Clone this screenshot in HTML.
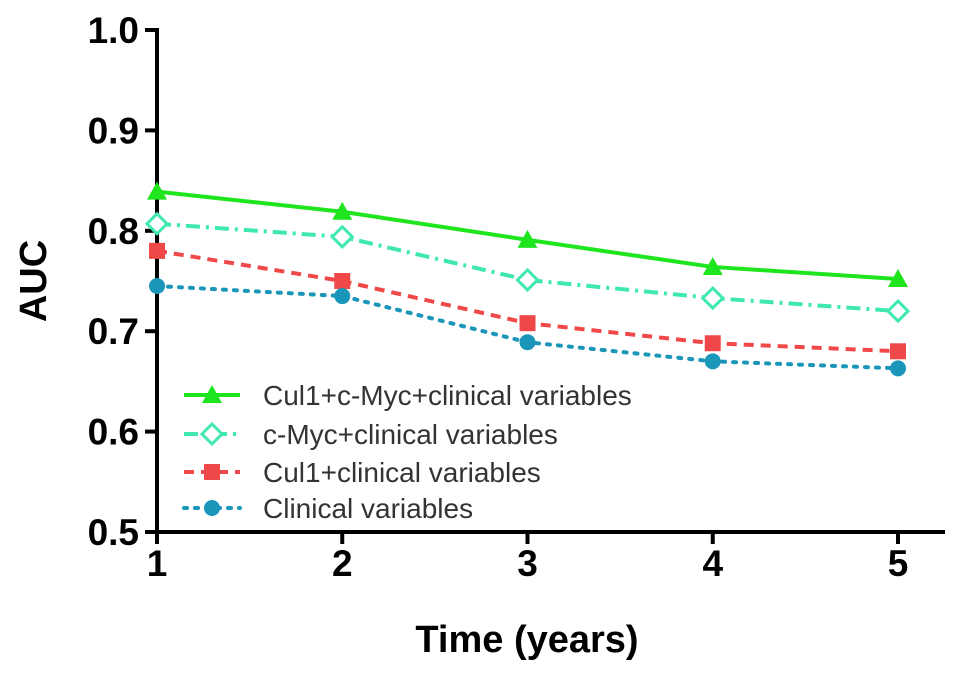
<!DOCTYPE html>
<html><head><meta charset="utf-8"><style>
body{margin:0;background:#fff}
svg text{font-family:"Liberation Sans",Arial,sans-serif}
</style></head><body>
<svg id="chart" width="969" height="677" viewBox="0 0 969 677" xmlns="http://www.w3.org/2000/svg">
<g id="axes"></g><g id="series"></g><g id="legend"></g>
</svg>
<script>
const years=[1,2,3,4,5];
const yTicks=[0.5,0.6,0.7,0.8,0.9,1.0];
const seriesNames=["Cul1+c-Myc+clinical variables","c-Myc+clinical variables","Cul1+clinical variables","Clinical variables"];
const cul1MycVals=[0.839,0.819,0.791,0.764,0.752];
const mycVals=[0.807,0.794,0.751,0.733,0.720];
const cul1Vals=[0.780,0.750,0.708,0.688,0.680];
const clinicalVals=[0.745,0.735,0.689,0.670,0.663];

const NS="http://www.w3.org/2000/svg";
const X0=157,X1=898,Y0=532,Y1=30;
const xs=v=>X0+(v-1)/(5-1)*(X1-X0);
const ys=v=>Y0-(v-0.5)/(1.0-0.5)*(Y0-Y1);
function mk(tag,attrs,parent){const e=document.createElementNS(NS,tag);for(const k in attrs)e.setAttribute(k,attrs[k]);parent.appendChild(e);return e;}
const axes=document.getElementById('axes'),ser=document.getElementById('series'),leg=document.getElementById('legend');

let e=mk('line',{x1:X0,y1:Y1-2,x2:X0,y2:Y0+2,stroke:'#000','stroke-width':4},axes);


e=mk('line',{x1:X0-2,y1:Y0,x2:945,y2:Y0,stroke:'#000','stroke-width':4},axes);


yTicks.forEach(t=>{
  mk('line',{x1:X0-12,y1:ys(t),x2:X0,y2:ys(t),stroke:'#000','stroke-width':4},axes);
  const tx=mk('text',{x:X0-18,y:ys(t)+13,'text-anchor':'end','font-size':37,'font-weight':'bold'},axes);
  tx.textContent=t.toFixed(1);
  
  
});
years.forEach(t=>{
  mk('line',{x1:xs(t),y1:Y0,x2:xs(t),y2:Y0+12,stroke:'#000','stroke-width':4},axes);
  const tx=mk('text',{x:xs(t),y:Y0+44,'text-anchor':'middle','font-size':37,'font-weight':'bold'},axes);
  tx.textContent=t;
  
  
});
e=mk('text',{x:527,y:652,'text-anchor':'middle','font-size':38,'font-weight':'bold'},axes);
e.textContent='Time (years)';


e=mk('text',{x:0,y:0,'text-anchor':'middle','font-size':38,'font-weight':'bold',transform:'translate(46,281) rotate(-90)'},axes);
e.textContent='AUC';



const styles=[
 {vals:cul1MycVals,color:'#1fe51f',dash:'',mark:'tri',name:'series-cul1-cmyc-clinical'},
 {vals:mycVals,color:'#3ee8b0',dash:'14 6 3 6',mark:'dia',name:'series-cmyc-clinical'},
 {vals:cul1Vals,color:'#f04848',dash:'10 7',mark:'sq',name:'series-cul1-clinical'},
 {vals:clinicalVals,color:'#1a96b8',dash:'3 8',mark:'circ',name:'series-clinical'}
];
function marker(type,x,y,c,g){
  if(type==='tri')return mk('polygon',{points:`${x},${y-10} ${x+10},${y+8} ${x-10},${y+8}`,fill:c},g);
  if(type==='dia')return mk('polygon',{points:`${x},${y-10} ${x+10},${y} ${x},${y+10} ${x-10},${y}`,fill:'#fff',stroke:c,'stroke-width':3},g);
  if(type==='sq')return mk('rect',{x:x-8,y:y-8,width:16,height:16,fill:c},g);
  return mk('circle',{cx:x,cy:y,r:8,fill:c},g);
}
styles.forEach((s,i)=>{
  const g=mk('g',{},ser);
  
  
  const pts=s.vals.map((v,j)=>xs(years[j])+','+ys(v)).join(' ');
  mk('polyline',{points:pts,fill:'none',stroke:s.color,'stroke-width':4,'stroke-dasharray':s.dash,'stroke-linecap':s.mark==='circ'?'round':'butt'},g);
  s.vals.forEach((v,j)=>{
    const m=marker(s.mark,xs(years[j]),ys(v),s.color,g);
    
    
  });
  const ly=[395,434,472,508][i];
  const lg=mk('g',{},leg);
  
  
  mk('line',{x1:184,y1:ly,x2:240,y2:ly,stroke:s.color,'stroke-width':4,'stroke-dasharray':s.dash,'stroke-linecap':s.mark==='circ'?'round':'butt'},lg);
  marker(s.mark,212,ly,s.color,lg);
  const t=mk('text',{x:263,y:ly+10,'font-size':28,fill:'#333'},lg);
  t.textContent=seriesNames[i];
});
</script>
</body></html>
